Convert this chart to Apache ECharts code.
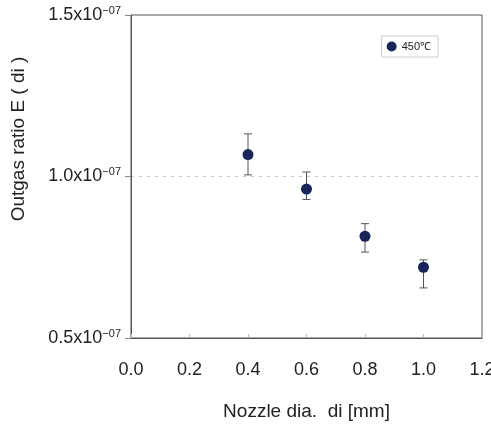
<!DOCTYPE html>
<html>
<head>
<meta charset="utf-8">
<script src="https://cdn.jsdelivr.net/npm/echarts@6/dist/echarts.min.js"></script>
<style>
  html, body { margin: 0; padding: 0; background: #fff; }
  #chart { width: 491px; height: 424px; }
</style>
</head>
<body>
<div id="chart"></div>
<script>
// nozzle diameter [mm]
const nozzle = [0.4, 0.6, 0.8, 1.0]
// outgas ratio E(di) and error bar bounds
const ratio = [1.068e-7, 0.961e-7, 0.815e-7, 0.719e-7]
const errHigh = [1.132e-7, 1.014e-7, 0.854e-7, 0.742e-7]
const errLow = [1.005e-7, 0.929e-7, 0.766e-7, 0.655e-7]
const xTicks = [0, 0.2, 0.4, 0.6, 0.8, 1.0, 1.2]
const yTicks = [0.5e-7, 1.0e-7, 1.5e-7]

const navy = '#17255a'
const font = '"Liberation Sans", Arial, sans-serif'

const chart = echarts.init(document.getElementById('chart'))

chart.setOption({
  animation: false,
  textStyle: { fontFamily: font },
  grid: {
    left: 131,
    right: 9,
    top: 15,
    bottom: 86,
    outerBoundsMode: 'none',
    show: true,
    borderColor: '#555',
    borderWidth: 1
  },
  legend: {
    right: 53,
    top: 36,
    itemWidth: 10,
    itemHeight: 10,
    itemGap: 4,
    padding: [5, 7, 5, 5],
    borderColor: '#ccc',
    borderWidth: 1,
    textStyle: { fontSize: 11, color: '#222', fontFamily: font },
    data: [{ name: '450℃', icon: 'circle' }]
  },
  graphic: [{
    type: 'text',
    x: 19,
    y: 139,
    rotation: Math.PI / 2,
    style: {
      text: 'Outgas ratio E ( di )',
      fontSize: 19,
      fontFamily: font,
      fill: '#222',
      align: 'center',
      verticalAlign: 'middle'
    }
  }],
  xAxis: {
    type: 'value',
    min: xTicks[0],
    max: xTicks[xTicks.length - 1],
    interval: 0.2,
    name: 'Nozzle dia.  di [mm]',
    nameLocation: 'middle',
    nameGap: 64,
    nameTextStyle: { fontSize: 19, color: '#222' },
    axisLine: { lineStyle: { color: '#555' } },
    axisTick: { inside: true, length: 4, lineStyle: { color: '#bbb' } },
    axisLabel: {
      fontSize: 18,
      color: '#222',
      margin: 23,
      formatter: v => v.toFixed(1)
    },
    splitLine: { show: false }
  },
  yAxis: {
    type: 'value',
    min: yTicks[0],
    max: yTicks[yTicks.length - 1],
    interval: 0.5e-7,
    axisLine: { lineStyle: { color: '#555' } },
    axisTick: { length: 6, lineStyle: { color: '#888' } },
    axisLabel: {
      margin: 10,
      color: '#222',
      formatter: v => '{b|' + (v * 1e7).toFixed(1) + 'x10}{s|−07}',
      rich: {
        b: { fontSize: 18, color: '#222', fontFamily: font },
        s: { fontSize: 11, color: '#222', fontFamily: font, verticalAlign: 'top', padding: [0, 0, 9, 0] }
      }
    },
    splitLine: {
      show: true,
      // only the middle line (1.0x10^-07) is drawn
      lineStyle: { color: ['rgba(0,0,0,0)', '#ccc', 'rgba(0,0,0,0)'], type: [3, 5], width: 1 }
    }
  },
  series: [
    {
      name: 'errors',
      type: 'custom',
      z: 2,
      data: nozzle.map((x, i) => [x, errLow[i], errHigh[i]]),
      renderItem: (params, api) => {
        const lo = api.coord([api.value(0), api.value(1)])
        const hi = api.coord([api.value(0), api.value(2)])
        const w = 4
        const style = { stroke: '#555', lineWidth: 1 }
        return {
          type: 'group',
          children: [
            { type: 'line', shape: { x1: lo[0], y1: lo[1], x2: hi[0], y2: hi[1] }, style },
            { type: 'line', shape: { x1: hi[0] - w, y1: hi[1], x2: hi[0] + w, y2: hi[1] }, style },
            { type: 'line', shape: { x1: lo[0] - w, y1: lo[1], x2: lo[0] + w, y2: lo[1] }, style }
          ]
        }
      }
    },
    {
      name: '450℃',
      type: 'scatter',
      z: 3,
      symbol: 'circle',
      symbolSize: 11,
      itemStyle: { color: navy, opacity: 1 },
      data: nozzle.map((x, i) => [x, ratio[i]])
    }
  ]
})
</script>
</body>
</html>
